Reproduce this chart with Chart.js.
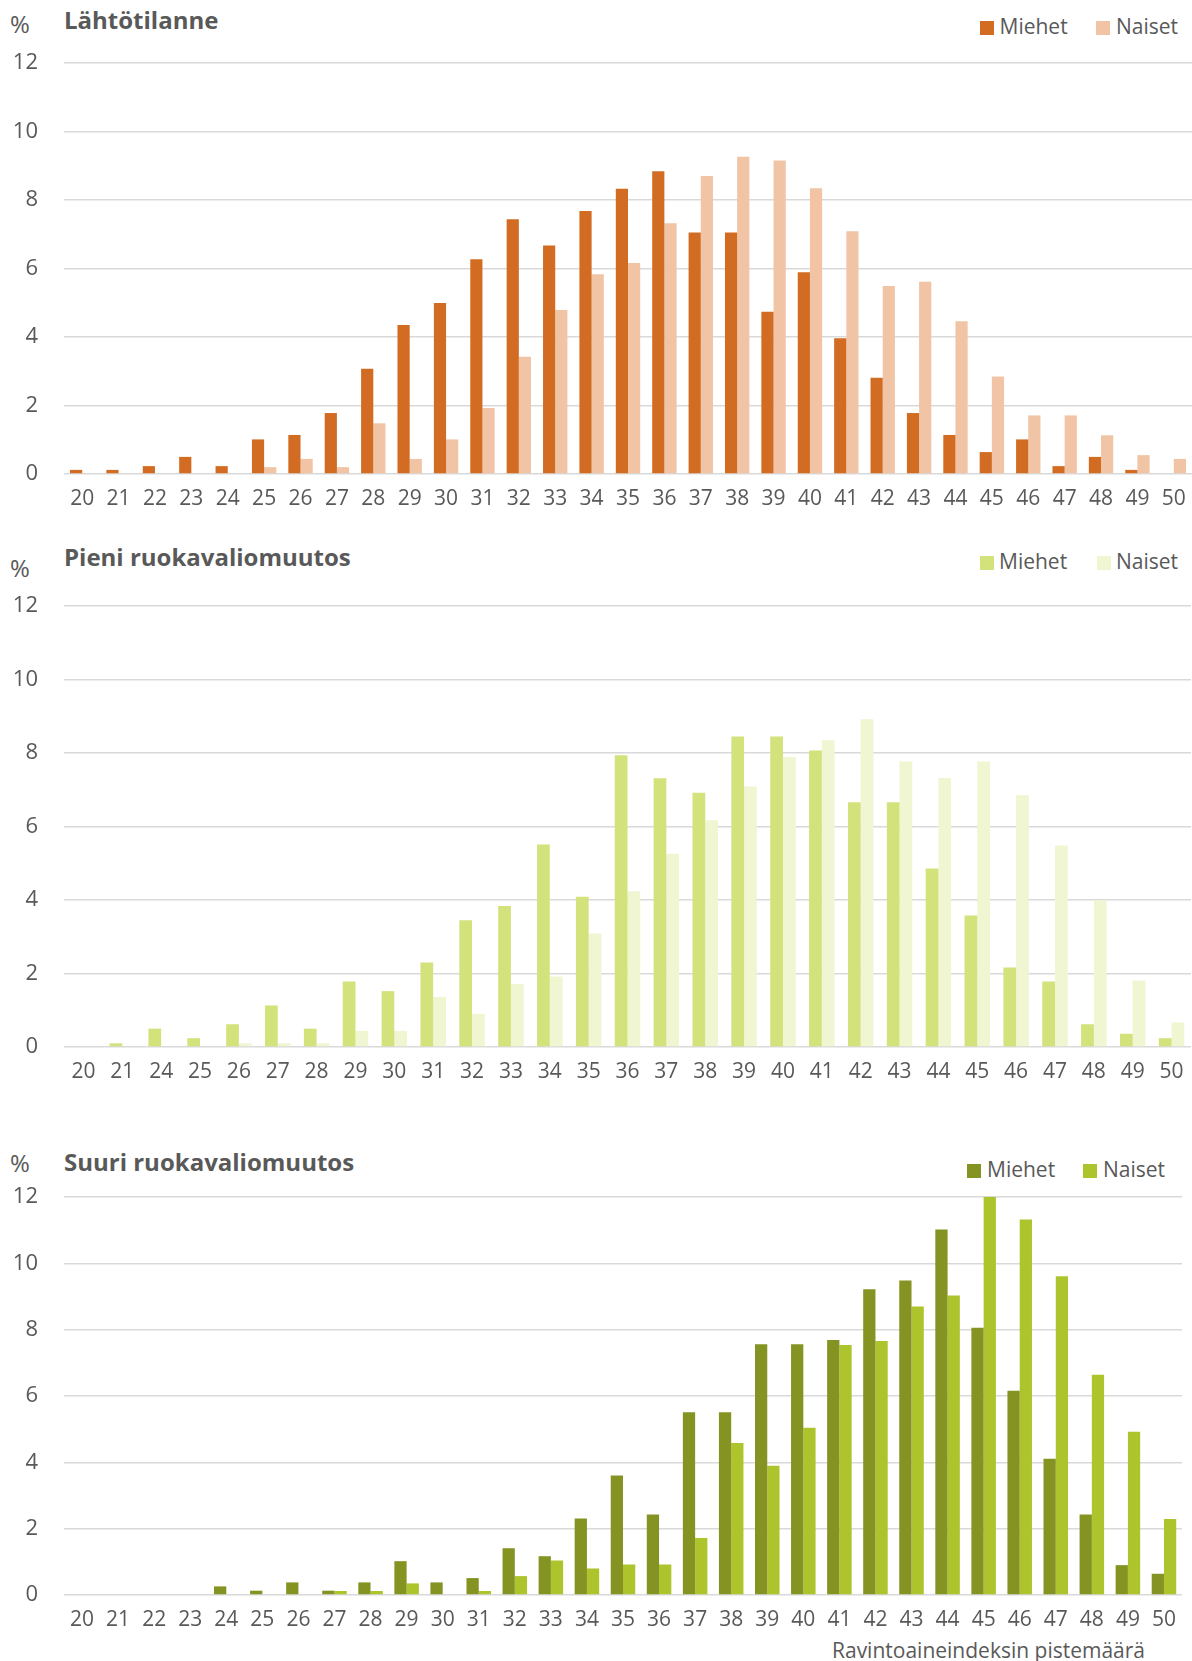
<!DOCTYPE html>
<html><head><meta charset="utf-8">
<script src="https://cdn.jsdelivr.net/npm/chart.js@4.4.0/dist/chart.umd.min.js"></script>
<style>
html,body{margin:0;padding:0;background:#fff;}
body{width:1192px;height:1661px;position:relative;overflow:hidden;font-family:'Open Sans',sans-serif;color:#595959;}
.t{position:absolute;white-space:nowrap;line-height:1;}
.title{font-weight:700;font-size:24px;}
.pct{font-size:24px;}
.leg{font-size:21px;}
.axt{font-size:21px;}
.sw{position:absolute;width:14px;height:14px;}
canvas{position:absolute;left:0;}
</style></head><body>

<div class="t pct" style="left:10px;top:12px">%</div>
<div class="t title" style="left:64px;top:8px">Lähtötilanne</div>
<div class="sw" id="sw1a" style="left:980px;top:21px"></div>
<div class="t leg" style="left:999.5px;top:15.7px">Miehet</div>
<div class="sw" id="sw1b" style="left:1096px;top:21px"></div>
<div class="t leg" style="left:1116px;top:15.7px">Naiset</div>

<div class="t pct" style="left:10px;top:556px">%</div>
<div class="t title" style="left:64px;top:545.4px">Pieni ruokavaliomuutos</div>
<div class="sw" id="sw2a" style="left:980px;top:556px"></div>
<div class="t leg" style="left:999px;top:551.4px">Miehet</div>
<div class="sw" id="sw2b" style="left:1097px;top:556px"></div>
<div class="t leg" style="left:1116px;top:551.4px">Naiset</div>

<div class="t pct" style="left:10px;top:1151px">%</div>
<div class="t title" style="left:64px;top:1150.4px">Suuri ruokavaliomuutos</div>
<div class="sw" id="sw3a" style="left:967px;top:1164px"></div>
<div class="t leg" style="left:987px;top:1159px">Miehet</div>
<div class="sw" id="sw3b" style="left:1083px;top:1164px"></div>
<div class="t leg" style="left:1103px;top:1159px">Naiset</div>

<div class="t axt" style="left:832px;top:1639.5px">Ravintoaineindeksin pistemäärä</div>

<canvas id="c1" width="1192" height="491" style="top:23px"></canvas>
<canvas id="c2" width="1191" height="521" style="top:566px"></canvas>
<canvas id="c3" width="1182" height="478" style="top:1157px"></canvas>

<script>
const catsFull = ['20','21','22','23','24','25','26','27','28','29','30','31','32','33','34','35','36','37','38','39','40','41','42','43','44','45','46','47','48','49','50'];
const catsPieni = ['20','21','24','25','26','27','28','29','30','31','32','33','34','35','36','37','38','39','40','41','42','43','44','45','46','47','48','49','50'];
const yTicks = [0,2,4,6,8,10,12];

const lahtoMiehet = [0.12,0.12,0.23,0.5,0.23,1.01,1.14,1.78,3.07,4.35,4.99,6.27,7.44,6.67,7.68,8.33,8.84,7.05,7.05,4.74,5.89,3.96,2.81,1.78,1.14,0.64,1.01,0.23,0.5,0.12,0];
const lahtoNaiset = [0,0,0,0,0,0.2,0.44,0.2,1.48,0.44,1.01,1.93,3.42,4.79,5.83,6.16,7.32,8.70,9.26,9.15,8.34,7.09,5.49,5.61,4.46,2.85,1.71,1.71,1.13,0.55,0.44];

const pieniMiehet = [0,0.1,0.5,0.24,0.62,1.13,0.5,1.78,1.52,2.3,3.45,3.84,5.51,4.09,7.94,7.31,6.92,8.45,8.45,8.07,6.66,6.66,4.86,3.58,2.16,1.78,0.62,0.36,0.24];
const pieniNaiset = [0,0,0,0,0.1,0.1,0.1,0.44,0.44,1.36,0.9,1.71,1.92,3.09,4.24,5.26,6.17,7.09,7.89,8.35,8.92,7.77,7.32,7.77,6.85,5.48,3.99,1.81,0.67];

const suuriMiehet = [0,0,0,0,0.26,0.13,0.38,0.13,0.38,1.02,0.38,0.51,1.41,1.17,2.31,3.6,2.43,5.51,5.51,7.56,7.56,7.69,9.22,9.48,11.02,8.06,6.16,4.11,2.43,0.9,0.64];
const suuriNaiset = [0,0,0,0,0,0,0,0.12,0.12,0.35,0,0.12,0.57,1.04,0.8,0.92,0.92,1.72,4.58,3.9,5.04,7.54,7.66,8.70,9.03,12.0,11.32,9.61,6.64,4.92,2.29];

const lahtoColors = ['#D26C22','#F0C4A5'];
const pieniColors = ['#D4E27C','#F0F5D2'];
const suuriColors = ['#849322','#AEC42D'];

Chart.defaults.font.family = "'Open Sans', sans-serif";
Chart.defaults.color = '#595959';

function makeChart(id, labels, men, women, colors, catPct) {
  return new Chart(document.getElementById(id), {
    type: 'bar',
    data: {
      labels: labels,
      datasets: [
        {label:'Miehet', data: men, backgroundColor: colors[0], borderWidth: 0, barPercentage: 1, categoryPercentage: catPct},
        {label:'Naiset', data: women, backgroundColor: colors[1], borderWidth: 0, barPercentage: 1, categoryPercentage: catPct}
      ]
    },
    options: {
      responsive: false,
      animation: false,
      layout: {padding: {top: 40, left: 0, right: 0, bottom: 0}},
      plugins: {legend: {display: false}, tooltip: {enabled: false}, title: {display: false}},
      scales: {
        x: {
          grid: {display: false, drawTicks: false},
          border: {display: false},
          ticks: {color: '#595959', font: {size: 21}, padding: 12, maxRotation: 0, autoSkip: false},
          afterFit: (a) => { a.height = 40; a.paddingLeft = 0; a.paddingRight = 0; }
        },
        y: {
          min: 0, max: 12,
          afterBuildTicks: (a) => { a.ticks = yTicks.map(v => ({value: v})); },
          ticks: {color: '#595959', font: {size: 22}, padding: 26},
          grid: {color: '#d9d9d9', lineWidth: 1.5, drawTicks: false},
          border: {display: false},
          afterFit: (a) => { a.width = 64; }
        }
      }
    }
  });
}

makeChart('c1', catsFull, lahtoMiehet, lahtoNaiset, lahtoColors, 0.67);
makeChart('c2', catsPieni, pieniMiehet, pieniNaiset, pieniColors, 0.655);
makeChart('c3', catsFull, suuriMiehet, suuriNaiset, suuriColors, 0.68);

document.getElementById('sw1a').style.background = lahtoColors[0];
document.getElementById('sw1b').style.background = lahtoColors[1];
document.getElementById('sw2a').style.background = pieniColors[0];
document.getElementById('sw2b').style.background = pieniColors[1];
document.getElementById('sw3a').style.background = suuriColors[0];
document.getElementById('sw3b').style.background = suuriColors[1];
</script>
</body></html>
